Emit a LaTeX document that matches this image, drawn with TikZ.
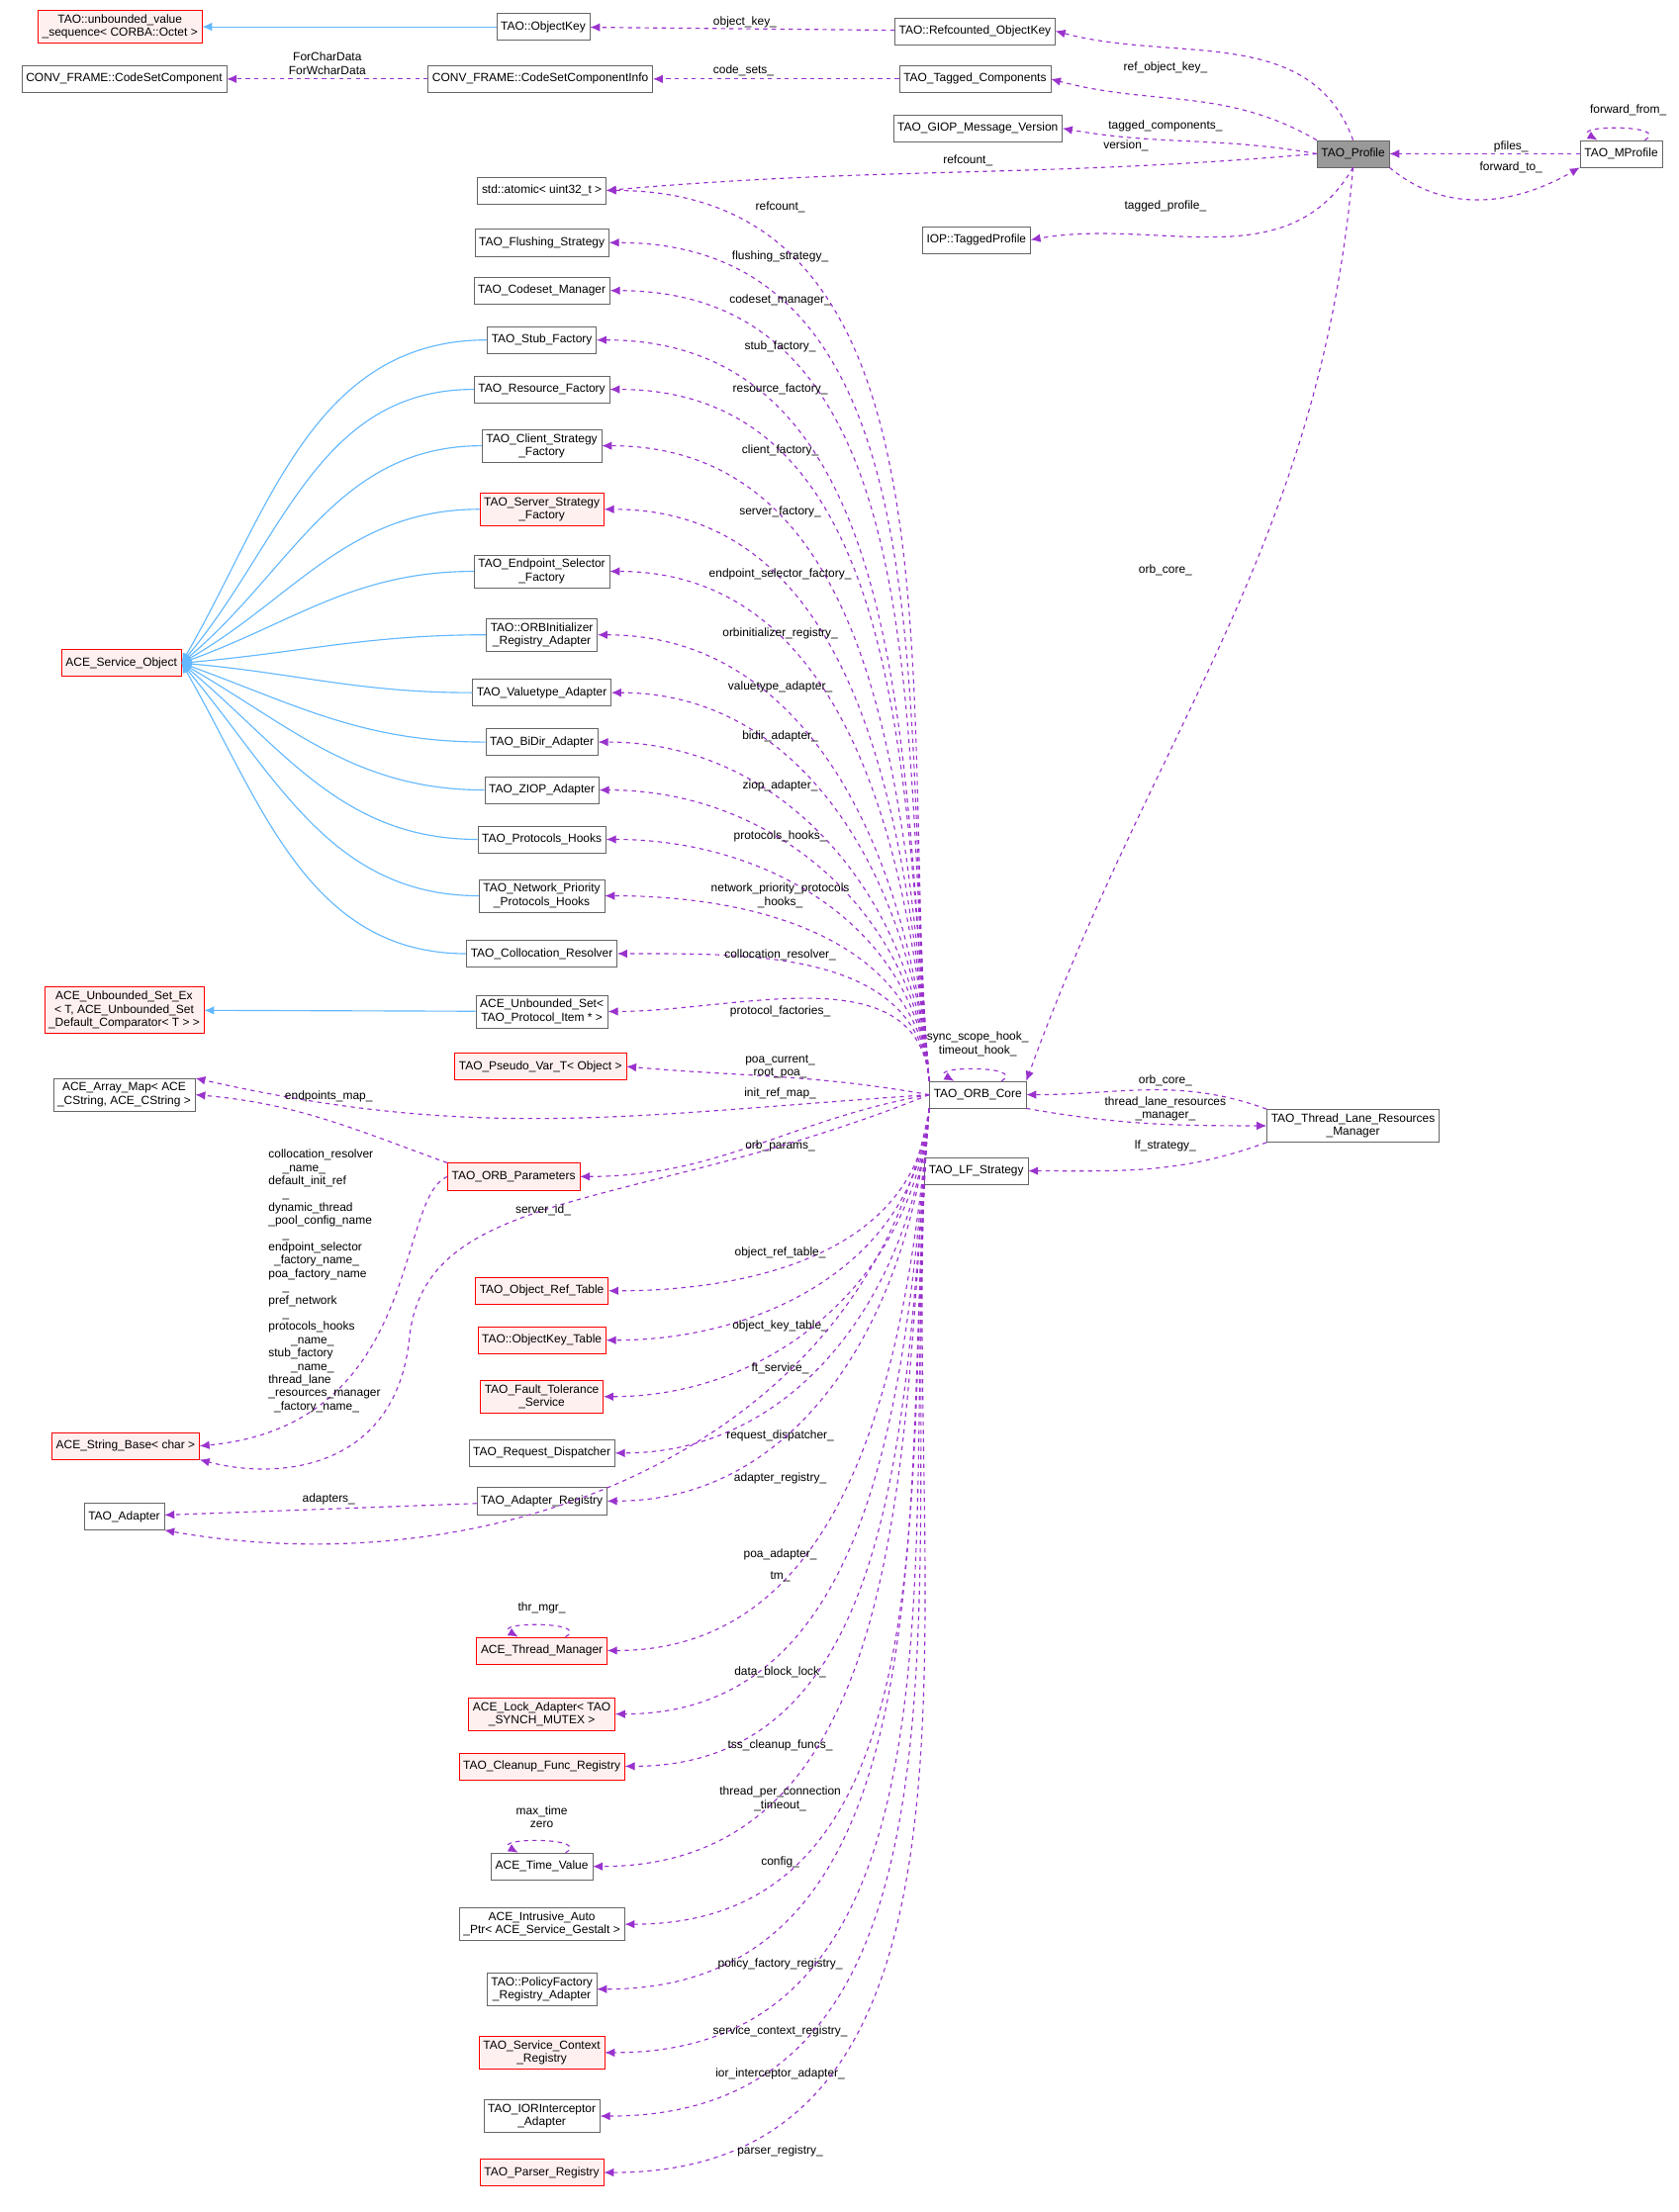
\documentclass[tikz,border=0pt]{standalone}
\usepackage{fontspec}
\setmainfont{Liberation Sans}
\usetikzlibrary{arrows.meta}
\definecolor{deppurple}{HTML}{9A32CD}
\definecolor{inhblue}{HTML}{63B8FF}
\tikzset{
  cls/.style={draw=black!60,fill=white,minimum height=19pt,inner sep=3pt,align=center,font=\fontsize{8.4}{9.4}\selectfont},
  redcls/.style={cls,draw=red,fill=red!6},
  dep/.style={-{Latex[length=7pt,width=6pt]},dashed,deppurple,thick},
  inh/.style={-{Latex[length=7pt,width=6pt]},inhblue,thick},
  lab/.style={align=center,font=\fontsize{8.4}{9.4}\selectfont,inner sep=1pt},
  selfloop/.style={dep,out=30,in=150,loop,min distance=22pt}
}
\begin{document}
\begin{tikzpicture}[x=1pt,y=-1pt]
  \useasboundingbox (0,0) rectangle (1190,1568);
  % top area
  \node[redcls] (unb) at (85,19) {TAO::unbounded\_value\\\_sequence< CORBA::Octet >};
  \node[cls] (objkey) at (385,19) {TAO::ObjectKey};
  \node[cls] (refobj) at (691,22) {TAO::Refcounted\_ObjectKey};
  \node[cls] (csc) at (88,56) {CONV\_FRAME::CodeSetComponent};
  \node[cls] (csci) at (383,56) {CONV\_FRAME::CodeSetComponentInfo};
  \node[cls] (tagcomp) at (691,56) {TAO\_Tagged\_Components};
  \node[cls] (giop) at (693,91) {TAO\_GIOP\_Message\_Version};
  \node[cls,fill=black!40] (profile) at (959,109) {TAO\_Profile};
  \node[cls] (mprofile) at (1149,109) {TAO\_MProfile};
  \node[cls] (atomic) at (384,135) {std::atomic< uint32\_t >};
  \node[cls] (tagprof) at (692,170) {IOP::TaggedProfile};
  % left column
  \node[cls] (flush) at (384,172) {TAO\_Flushing\_Strategy};
  \node[cls] (codeset) at (384,206) {TAO\_Codeset\_Manager};
  \node[cls] (stub) at (384,241) {TAO\_Stub\_Factory};
  \node[cls] (resfac) at (384,276) {TAO\_Resource\_Factory};
  \node[cls] (clistrat) at (384,316) {TAO\_Client\_Strategy\\\_Factory};
  \node[redcls] (servstrat) at (384,361) {TAO\_Server\_Strategy\\\_Factory};
  \node[cls] (endsel) at (384,405) {TAO\_Endpoint\_Selector\\\_Factory};
  \node[cls] (orbinit) at (384,450) {TAO::ORBInitializer\\\_Registry\_Adapter};
  \node[cls] (valuetype) at (384,491) {TAO\_Valuetype\_Adapter};
  \node[cls] (bidir) at (384,526) {TAO\_BiDir\_Adapter};
  \node[cls] (ziop) at (384,560) {TAO\_ZIOP\_Adapter};
  \node[cls] (protohooks) at (384,595) {TAO\_Protocols\_Hooks};
  \node[cls] (netprio) at (384,635) {TAO\_Network\_Priority\\\_Protocols\_Hooks};
  \node[cls] (colres) at (384,676) {TAO\_Collocation\_Resolver};
  \node[cls] (unbset) at (384,717) {ACE\_Unbounded\_Set<\\TAO\_Protocol\_Item * >};
  \node[redcls] (aso) at (86,470) {ACE\_Service\_Object};
  \node[redcls] (unbsetex) at (88,716) {ACE\_Unbounded\_Set\_Ex\\< T, ACE\_Unbounded\_Set\\\_Default\_Comparator< T > >};
  \node[redcls] (pseudo) at (383,756) {TAO\_Pseudo\_Var\_T< Object >};
  \node[cls] (arraymap) at (88,776) {ACE\_Array\_Map< ACE\\\_CString, ACE\_CString >};
  \node[cls] (orbcore) at (693,776) {TAO\_ORB\_Core};
  \node[cls] (tlrm) at (959,798) {TAO\_Thread\_Lane\_Resources\\\_Manager};
  \node[cls] (lfstrat) at (692,830) {TAO\_LF\_Strategy};
  \node[redcls] (orbparams) at (364,834) {TAO\_ORB\_Parameters};
  \node[redcls] (objreftab) at (384,915) {TAO\_Object\_Ref\_Table};
  \node[redcls] (okt) at (384,950) {TAO::ObjectKey\_Table};
  \node[redcls] (ft) at (384,990) {TAO\_Fault\_Tolerance\\\_Service};
  \node[cls] (reqdisp) at (384,1030) {TAO\_Request\_Dispatcher};
  \node[cls] (adapreg) at (384,1064) {TAO\_Adapter\_Registry};
  \node[redcls] (strbase) at (89,1025) {ACE\_String\_Base< char >};
  \node[cls] (adapter) at (88,1075) {TAO\_Adapter};
  \node[redcls] (thrmgr) at (384,1170) {ACE\_Thread\_Manager};
  \node[redcls] (lockad) at (384,1215) {ACE\_Lock\_Adapter< TAO\\\_SYNCH\_MUTEX >};
  \node[redcls] (cleanup) at (384,1252) {TAO\_Cleanup\_Func\_Registry};
  \node[cls] (timeval) at (384,1323) {ACE\_Time\_Value};
  \node[cls] (intrusive) at (384,1364) {ACE\_Intrusive\_Auto\\\_Ptr< ACE\_Service\_Gestalt >};
  \node[cls] (policyfac) at (384,1410) {TAO::PolicyFactory\\\_Registry\_Adapter};
  \node[redcls] (servctx) at (384,1455) {TAO\_Service\_Context\\\_Registry};
  \node[cls] (ior) at (384,1500) {TAO\_IORInterceptor\\\_Adapter};
  \node[redcls] (parser) at (384,1540) {TAO\_Parser\_Registry};
  %% inheritance
  \draw[inh] (objkey) -- (unb);
  \draw[inh] (unbset) -- (unbsetex);
  \foreach \t/\a in {stub/60,resfac/50,clistrat/40,servstrat/30,endsel/20,orbinit/5,
      valuetype/-5,bidir/-20,ziop/-30,protohooks/-40,netprio/-50,colres/-60}
    \draw[inh] (\t.west) to[out=180,in=\a] (aso.east);
  %% profile part
  \draw[dep] (refobj) -- (objkey);
  \node[lab] (lobjkey) at (528,16) {object\_key\_};
  \draw[dep] (tagcomp) -- (csci);
  \node[lab] (lcodesets) at (527,50) {code\_sets\_};
  \draw[dep] (csci) -- (csc);
  \node[lab] (lforchar) at (232,45) {ForCharData\\ForWcharData};
  \draw[dep] (profile.north) to[out=110,in=-15] (refobj.east);
  \node[lab] (lrefobj) at (826,48) {ref\_object\_key\_};
  \draw[dep] (profile.north west) to[out=150,in=-15] (tagcomp.east);
  \node[lab] (ltagcomp) at (826,89) {tagged\_components\_};
  \draw[dep] (profile.west) to[out=170,in=-10] (giop.east);
  \node[lab] (lversion) at (798,103) {version\_};
  \draw[dep] (profile.west) to[out=185,in=5] (atomic.east);
  \node[lab] (lrefcount) at (686,114) {refcount\_};
  \draw[dep] (profile.south) to[out=-120,in=10] (tagprof.east);
  \node[lab] (ltagprof) at (826,146) {tagged\_profile\_};
  \draw[dep] (mprofile) -- (profile);
  \node[lab] (lpfiles) at (1071,104) {pfiles\_};
  \draw[dep] (profile.south east) to[out=-40,in=-150] (mprofile.south west);
  \node[lab] (lfwdto) at (1071,119) {forward\_to\_};
  \draw[selfloop] (mprofile) to (mprofile);
  \node[lab] (lfwdfrom) at (1154,78) {forward\_from\_};
  \draw[dep] (profile.south) to[out=-95,in=70] (orbcore.north east);
  \node[lab] (lorbcore) at (826,404) {orb\_core\_};
  %% orb core part
  \foreach \t/\l/\y in {atomic/refcount\_/147,flush/flushing\_strategy\_/182,codeset/codeset\_manager\_/213,
      stub/stub\_factory\_/246,resfac/resource\_factory\_/276,clistrat/client\_factory\_/319,
      servstrat/server\_factory\_/363,endsel/endpoint\_selector\_factory\_/407,
      orbinit/orbinitializer\_registry\_/449,valuetype/valuetype\_adapter\_/487,
      bidir/bidir\_adapter\_/522,ziop/ziop\_adapter\_/557,protohooks/protocols\_hooks\_/593,
      netprio/{network\_priority\_protocols\\\_hooks\_}/635,colres/collocation\_resolver\_/677,
      unbset/protocol\_factories\_/717}
  {
    \draw[dep] (orbcore.north west) to[out=95,in=0] (\t.east);
    \node[lab] (l\t) at (553,\y) {\l};
  }
  \foreach \t/\l/\y in {objreftab/object\_ref\_table\_/888,okt/object\_key\_table\_/940,
      ft/ft\_service\_/970,reqdisp/request\_dispatcher\_/1018,adapreg/adapter\_registry\_/1048,
      thrmgr/tm\_/1118,lockad/data\_block\_lock\_/1185,cleanup/tss\_cleanup\_funcs\_/1237,
      timeval/{thread\_per\_connection\\\_timeout\_}/1275,intrusive/config\_/1320,
      policyfac/policy\_factory\_registry\_/1392,servctx/service\_context\_registry\_/1440,
      ior/ior\_interceptor\_adapter\_/1470,parser/parser\_registry\_/1525}
  {
    \draw[dep] (orbcore.south west) to[out=-95,in=0] (\t.east);
    \node[lab] (l\t) at (553,\y) {\l};
  }
  \draw[dep] (orbcore.west) to[out=170,in=-5] (pseudo.east);
  \node[lab] (lpseudo) at (553,756) {poa\_current\_\\root\_poa\_};
  \draw[dep] (orbcore.west) .. controls (450,790) and (340,810) .. (arraymap.north east);
  \node[lab] (linitref) at (553,775) {init\_ref\_map\_};
  \draw[selfloop] (orbcore) to (orbcore);
  \node[lab] (lhooks) at (693,740) {sync\_scope\_hook\_\\timeout\_hook\_};
  \draw[dep] (orbcore.west) to[out=190,in=0] (orbparams.east);
  \node[lab] (lorbparams) at (553,812) {orb\_params\_};
  \draw[dep] (orbcore.west) .. controls (450,860) and (300,840) .. (290,950)
    .. controls (280,1040) and (200,1050) .. (strbase.south east);
  \node[lab] (lserverid) at (385,858) {server\_id\_};
  \draw[dep] (orbparams.north west) to[out=160,in=-5] (arraymap.east);
  \node[lab] (lendpoints) at (233,777) {endpoints\_map\_};
  \draw[dep] (orbparams.west) .. controls (280,850) and (300,1010) .. (strbase.east);
  \node[lab,align=left] (lstrings) at (230,908) {collocation\_resolver\\\hspace{10pt}\_name\_\\default\_init\_ref\\\hspace{10pt}\_\\dynamic\_thread\\\_pool\_config\_name\\\hspace{10pt}\_\\endpoint\_selector\\\hspace{4pt}\_factory\_name\_\\poa\_factory\_name\\\hspace{10pt}\_\\pref\_network\\\hspace{10pt}\_\\protocols\_hooks\\\hspace{16pt}\_name\_\\stub\_factory\\\hspace{16pt}\_name\_\\thread\_lane\\\_resources\_manager\\\hspace{4pt}\_factory\_name\_};
  \draw[dep] (adapreg) -- (adapter);
  \node[lab] (ladapters) at (233,1063) {adapters\_};
  \draw[dep] (orbcore.south west) to[out=-100,in=-10] (adapter.south east);
  \node[lab] (lpoaadapter) at (553,1102) {poa\_adapter\_};
  \draw[selfloop] (thrmgr) to (thrmgr);
  \node[lab] (lthrmgr) at (384,1140) {thr\_mgr\_};
  \draw[selfloop] (timeval) to (timeval);
  \node[lab] (ltimeval) at (384,1288) {max\_time\\zero};
  %% thread lane resources
  \draw[dep] (tlrm.north west) to[out=160,in=0] (orbcore.east);
  \node[lab] (ltlorbcore) at (826,766) {orb\_core\_};
  \draw[dep] (orbcore.south east) to[out=-10,in=180] (tlrm.west);
  \node[lab] (ltlrm) at (826,786) {thread\_lane\_resources\\\_manager\_};
  \draw[dep] (tlrm.south west) to[out=200,in=0] (lfstrat.east);
  \node[lab] (llfstrat) at (826,812) {lf\_strategy\_};
\end{tikzpicture}
\end{document}
